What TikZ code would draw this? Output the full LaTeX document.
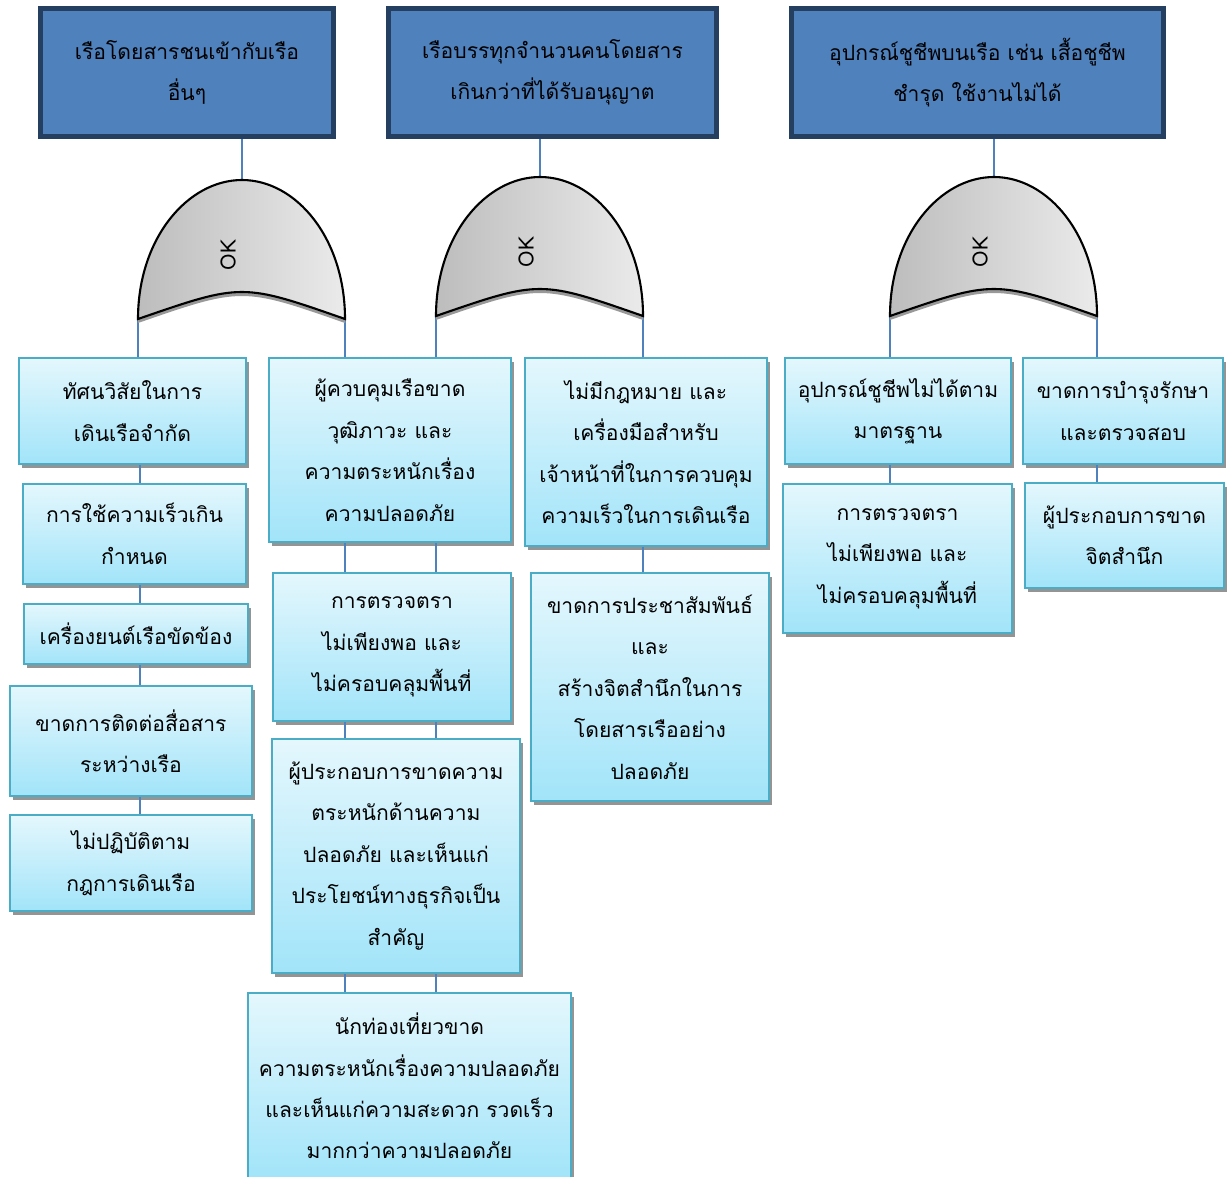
\documentclass[tikz,border=0pt]{standalone}
\usepackage{fontspec}
\newfontfamily\thaifont[Script=Thai]{Loma}
\usetikzlibrary{shadows}

\definecolor{hdfill}{HTML}{4F81BD}
\definecolor{hdline}{HTML}{243F60}
\definecolor{bxtop}{HTML}{E4F7FD}
\definecolor{bxbot}{HTML}{A2E4F9}
\definecolor{bxline}{HTML}{4BACC6}
\definecolor{wirecol}{HTML}{4F81BD}

% box given by its outer corners (x1,y1) and (x2,y2) in pixel units
\newcommand\headbox[6]{\node[head, minimum width={(#4-#2-5)*0.02cm}, minimum height={(#5-#3-5)*0.02cm}] (#1) at ({(#2+#4)/2},{(#3+#5)/2}) {#6};}
\newcommand\causebox[6]{\node[cause, minimum width={(#4-#2-2)*0.02cm}, minimum height={(#5-#3-2)*0.02cm}] (#1) at ({(#2+#4)/2},{(#3+#5)/2}) {#6};}

\begin{document}
\begin{tikzpicture}[x=0.02cm, y=-0.02cm,
  txt/.style={font=\thaifont\fontsize{12}{23.6}\selectfont},
  head/.style={txt, draw=hdline, line width=2.8pt, fill=hdfill, align=center, inner sep=0pt},
  cause/.style={txt, draw=bxline, line width=1.2pt, top color=bxtop, bottom color=bxbot,
    align=center, inner sep=0pt,
    general shadow={fill=black!42, shadow xshift=0.06cm, shadow yshift=-0.08cm}},
  wire/.style={draw=wirecol, line width=1.1pt},
  orgate/.pic={
    \fill[black!40] (-104,139) .. controls (0,103) .. (103,139) -- (103,143) .. controls (0,107) .. (-104,143) -- cycle;
    \draw[black, line width=1.2pt, left color=black!26, right color=black!8]
      (-104,139) .. controls (-104,58) and (-54,0) .. (0,0)
      .. controls (54,0) and (103,58) .. (103,139)
      .. controls (0,103) .. (-104,139) -- cycle;
    \node[rotate=90, font=\thaifont\fontsize{12}{14}\selectfont] at (-14,75) {OK};
  }]
\useasboundingbox (0,0) rectangle (1229,1176);
\fill[white] (0,0) rectangle (1229,1176);

% top events
\headbox{t1}{38}{6}{336}{139}{เรือโดยสารชนเข้ากับเรือ\\อื่นๆ}
\headbox{t2}{386}{6}{719}{139}{เรือบรรทุกจำนวนคนโดยสาร\\เกินกว่าที่ได้รับอนุญาต}
\headbox{t3}{789}{6}{1166}{139}{อุปกรณ์ชูชีพบนเรือ เช่น เสื้อชูชีพ\\ชำรุด ใช้งานไม่ได้}

% gate terminals
\coordinate (g1top) at (242,180);
\coordinate (g1l) at (138,319);
\coordinate (g1r) at (345,319);
\coordinate (g2top) at (540,177);
\coordinate (g2l) at (436,316);
\coordinate (g2r) at (643,316);
\coordinate (g3top) at (994,177);
\coordinate (g3l) at (890,316);
\coordinate (g3r) at (1097,316);
\coordinate (col1) at (140,0);

% cause boxes
\causebox{b1}{18}{357}{247}{465}{ทัศนวิสัยในการ\\เดินเรือจำกัด}
\causebox{b2}{22}{483}{247}{585}{การใช้ความเร็วเกิน\\กำหนด}
\causebox{b3}{23}{603}{249}{665}{เครื่องยนต์เรือขัดข้อง}
\causebox{b4}{9}{685}{253}{797}{ขาดการติดต่อสื่อสาร\\ระหว่างเรือ}
\causebox{b5}{9}{814}{253}{912}{ไม่ปฏิบัติตาม\\กฎการเดินเรือ}

\causebox{c1}{268}{357}{512}{543}{ผู้ควบคุมเรือขาด\\วุฒิภาวะ และ\\ความตระหนักเรื่อง\\ความปลอดภัย}
\causebox{c2}{272}{572}{512}{722}{การตรวจตรา\\ไม่เพียงพอ และ\\ไม่ครอบคลุมพื้นที่}
\causebox{c3}{271}{738}{521}{974}{ผู้ประกอบการขาดความ\\ตระหนักด้านความ\\ปลอดภัย และเห็นแก่\\ประโยชน์ทางธุรกิจเป็น\\สำคัญ}
\causebox{c4}{247}{992}{572}{1180}{นักท่องเที่ยวขาด\\ความตระหนักเรื่องความปลอดภัย\\และเห็นแก่ความสะดวก รวดเร็ว\\มากกว่าความปลอดภัย}

\causebox{d1}{524}{357}{768}{547}{ไม่มีกฎหมาย และ\\เครื่องมือสำหรับ\\เจ้าหน้าที่ในการควบคุม\\ความเร็วในการเดินเรือ}
\causebox{d2}{530}{572}{770}{802}{ขาดการประชาสัมพันธ์\\และ\\สร้างจิตสำนึกในการ\\โดยสารเรืออย่าง\\ปลอดภัย}

\causebox{e1}{784}{357}{1012}{465}{อุปกรณ์ชูชีพไม่ได้ตาม\\มาตรฐาน}
\causebox{e2}{782}{483}{1013}{634}{การตรวจตรา\\ไม่เพียงพอ และ\\ไม่ครอบคลุมพื้นที่}

\causebox{f1}{1022}{357}{1224}{465}{ขาดการบำรุงรักษา\\และตรวจสอบ}
\causebox{f2}{1024}{482}{1225}{589}{ผู้ประกอบการขาด\\จิตสำนึก}

% connectors
\draw[wire] (t1.south -| g1top) -- (g1top);
\draw[wire] (t2.south -| g2top) -- (g2top);
\draw[wire] (t3.south -| g3top) -- (g3top);

\draw[wire] (g1l) -- (g1l |- b1.north);
\draw[wire] (b1.south -| col1) -- (b2.north -| col1);
\draw[wire] (b2.south -| col1) -- (b3.north -| col1);
\draw[wire] (b3.south -| col1) -- (b4.north -| col1);
\draw[wire] (b4.south -| col1) -- (b5.north -| col1);

\draw[wire] (g1r) -- (g1r |- c1.north);
\draw[wire] (g2l) -- (g2l |- c1.north);
\draw[wire] (c1.south -| g1r) -- (c2.north -| g1r);
\draw[wire] (c1.south -| g2l) -- (c2.north -| g2l);
\draw[wire] (c2.south -| g1r) -- (c3.north -| g1r);
\draw[wire] (c2.south -| g2l) -- (c3.north -| g2l);
\draw[wire] (c3.south -| g1r) -- (c4.north -| g1r);
\draw[wire] (c3.south -| g2l) -- (c4.north -| g2l);

\draw[wire] (g2r) -- (g2r |- d1.north);
\draw[wire] (d1.south -| g2r) -- (d2.north -| g2r);

\draw[wire] (g3l) -- (g3l |- e1.north);
\draw[wire] (e1.south -| g3l) -- (e2.north -| g3l);
\draw[wire] (g3r) -- (g3r |- f1.north);
\draw[wire] (f1.south -| g3r) -- (f2.north -| g3r);

% OR gates
\pic at (g1top) {orgate};
\pic at (g2top) {orgate};
\pic at (g3top) {orgate};
\end{tikzpicture}
\end{document}
